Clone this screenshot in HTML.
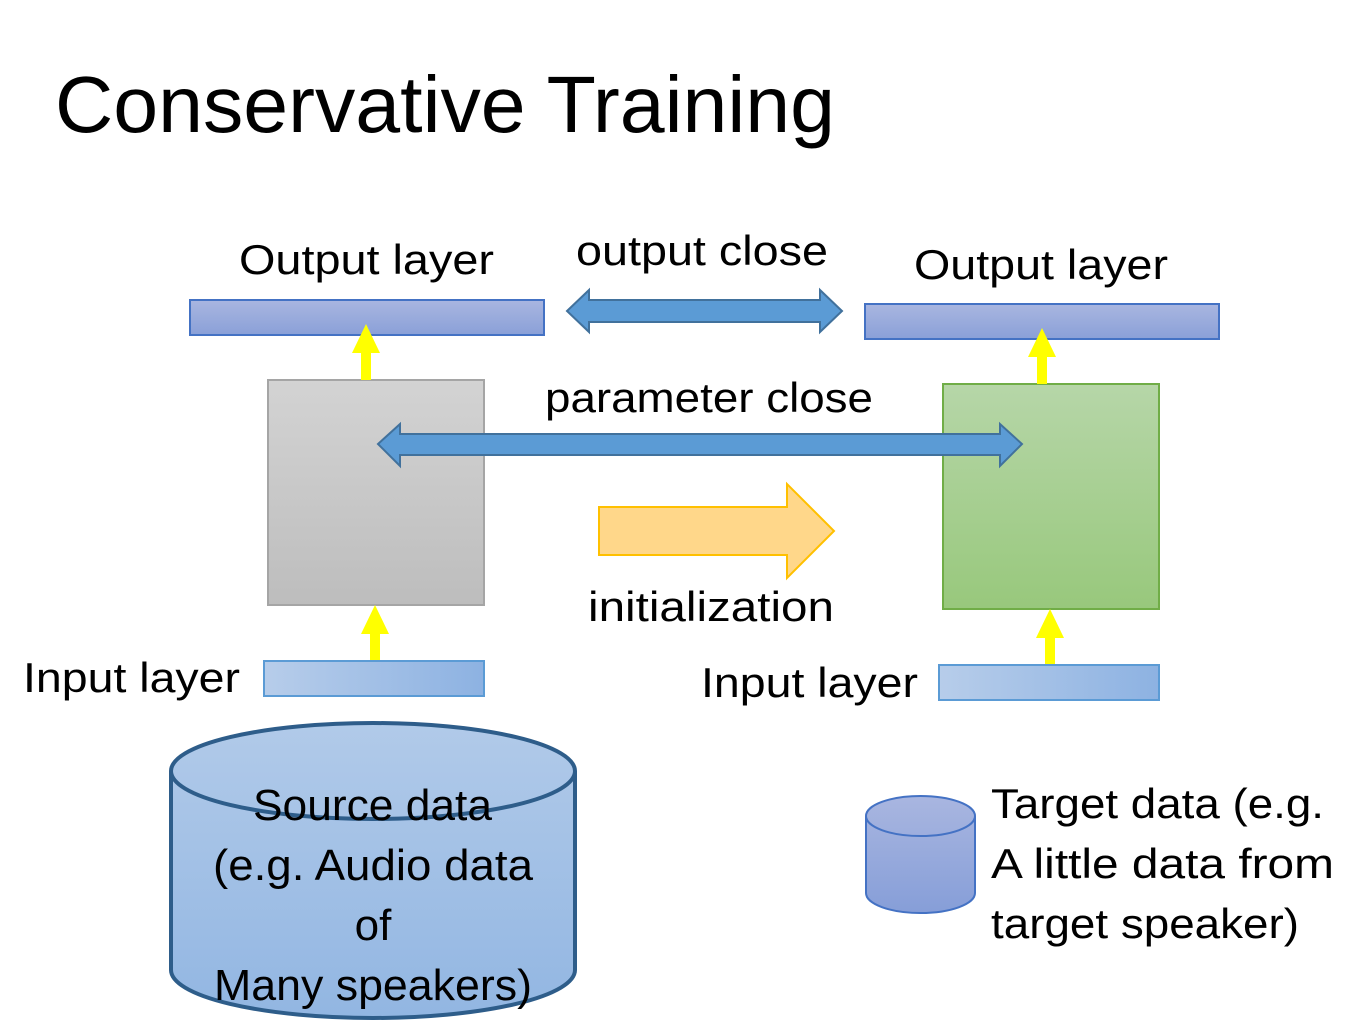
<!DOCTYPE html>
<html><head><meta charset="utf-8"><style>html,body{margin:0;padding:0;background:#fff}svg{display:block}</style></head>
<body>
<svg width="1355" height="1020" viewBox="0 0 1355 1020" xmlns="http://www.w3.org/2000/svg" font-family="'Liberation Sans', sans-serif">
<defs>
<linearGradient id="ob" x1="0" y1="0" x2="0" y2="1"><stop offset="0" stop-color="#a9b6e0"/><stop offset="1" stop-color="#8aa0d8"/></linearGradient>
<linearGradient id="ib" x1="0" y1="0" x2="1" y2="0"><stop offset="0" stop-color="#b7cdea"/><stop offset="1" stop-color="#8db2e2"/></linearGradient>
<linearGradient id="gr" x1="0" y1="0" x2="0" y2="1"><stop offset="0" stop-color="#d3d3d3"/><stop offset="1" stop-color="#bdbdbd"/></linearGradient>
<linearGradient id="gn" x1="0" y1="0" x2="0" y2="1"><stop offset="0" stop-color="#b6d6a8"/><stop offset="1" stop-color="#98c87c"/></linearGradient>
<linearGradient id="cy" x1="0" y1="0" x2="0" y2="1"><stop offset="0" stop-color="#b1cae9"/><stop offset="1" stop-color="#92b6e2"/></linearGradient>
<linearGradient id="cs" x1="0" y1="0" x2="0" y2="1"><stop offset="0" stop-color="#a9b6e0"/><stop offset="1" stop-color="#869ed8"/></linearGradient>
</defs>
<text x="55" y="132" font-size="80" textLength="780" lengthAdjust="spacingAndGlyphs">Conservative Training</text>

<rect x="190" y="300" width="354" height="35" fill="url(#ob)" stroke="#4472c4" stroke-width="2"/>
<rect x="865" y="304" width="354" height="35" fill="url(#ob)" stroke="#4472c4" stroke-width="2"/>
<text x="239" y="274" font-size="42" textLength="255" lengthAdjust="spacingAndGlyphs">Output layer</text>
<text x="914" y="279" font-size="42" textLength="254" lengthAdjust="spacingAndGlyphs">Output layer</text>
<text x="576" y="265" font-size="42" textLength="252" lengthAdjust="spacingAndGlyphs">output close</text>

<polygon points="567,311 589,290 589,300 820,300 820,290 842,311 820,332 820,322 589,322 589,332" fill="#5b9bd5" stroke="#41719c" stroke-width="2"/>

<rect x="268" y="380" width="216" height="225" fill="url(#gr)" stroke="#a5a5a5" stroke-width="2"/>
<rect x="943" y="384" width="216" height="225" fill="url(#gn)" stroke="#70ad47" stroke-width="2"/>

<text x="545" y="412" font-size="42" textLength="328" lengthAdjust="spacingAndGlyphs">parameter close</text>
<polygon points="378,444 400,424 400,434 1000,434 1000,424 1022,444 1000,466 1000,455 400,455 400,466" fill="#5b9bd5" stroke="#41719c" stroke-width="2"/>

<polygon points="599,507 787,507 787,484 834,531 787,578 787,555 599,555" fill="#ffd78a" stroke="#ffc000" stroke-width="2"/>
<text x="588" y="621" font-size="42" textLength="246" lengthAdjust="spacingAndGlyphs">initialization</text>

<g fill="#ffff00">
<polygon points="366,324 380,353 371,353 371,380 361,380 361,353 352,353"/>
<polygon points="375,605 389,634 380,634 380,661 370,661 370,634 361,634"/>
<polygon points="1042,328 1056,357 1047,357 1047,384 1037,384 1037,357 1028,357"/>
<polygon points="1050,609 1064,638 1055,638 1055,665 1045,665 1045,638 1036,638"/>
</g>

<rect x="264" y="661" width="220" height="35" fill="url(#ib)" stroke="#5b9bd5" stroke-width="2"/>
<rect x="939" y="665" width="220" height="35" fill="url(#ib)" stroke="#5b9bd5" stroke-width="2"/>
<text x="23" y="692" font-size="42" textLength="217" lengthAdjust="spacingAndGlyphs">Input layer</text>
<text x="701" y="697" font-size="42" textLength="217" lengthAdjust="spacingAndGlyphs">Input layer</text>

<path d="M171,771 L171,970 A202,48 0 0 0 575,970 L575,771 A202,48 0 0 0 171,771 Z" fill="url(#cy)" stroke="#2e5d8a" stroke-width="4"/>
<path d="M171,771 A202,48 0 0 0 575,771" fill="none" stroke="#2e5d8a" stroke-width="4"/>
<g font-size="44">
<text x="253" y="820" textLength="239" lengthAdjust="spacingAndGlyphs">Source data</text>
<text x="213" y="880" textLength="320" lengthAdjust="spacingAndGlyphs">(e.g. Audio data</text>
<text x="373" y="940" text-anchor="middle">of</text>
<text x="214" y="1000" textLength="318" lengthAdjust="spacingAndGlyphs">Many speakers)</text>
</g>

<path d="M866,816 L866,893 A54.5,20 0 0 0 975,893 L975,816 A54.5,20 0 0 0 866,816 Z" fill="url(#cs)" stroke="#4472c4" stroke-width="2"/>
<path d="M866,816 A54.5,20 0 0 0 975,816" fill="none" stroke="#4472c4" stroke-width="2"/>
<g font-size="42">
<text x="991" y="818" textLength="333" lengthAdjust="spacingAndGlyphs">Target data (e.g.</text>
<text x="991" y="878" textLength="343" lengthAdjust="spacingAndGlyphs">A little data from</text>
<text x="991" y="938" textLength="308" lengthAdjust="spacingAndGlyphs">target speaker)</text>
</g>
</svg>
</body></html>
